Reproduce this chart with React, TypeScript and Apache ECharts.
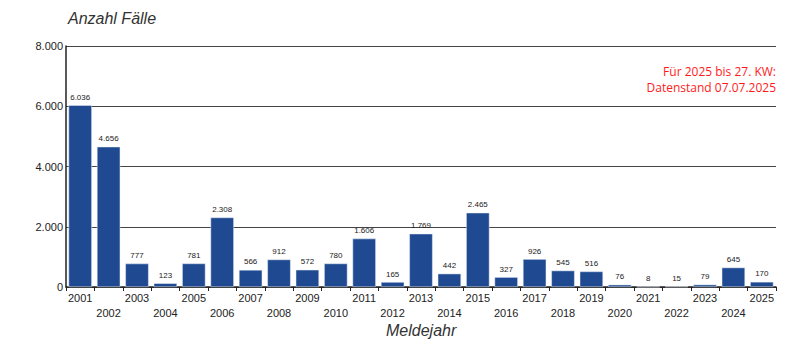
import React, { useEffect, useRef } from "react";
import * as echarts from "echarts";

const years = ["2001","2002","2003","2004","2005","2006","2007","2008","2009","2010","2011","2012","2013","2014","2015","2016","2017","2018","2019","2020","2021","2022","2023","2024","2025"];
const cases = [6036,4656,777,123,781,2308,566,912,572,780,1606,165,1769,442,2465,327,926,545,516,76,8,15,79,645,170];
const yTicks = [0, 2000, 4000, 6000, 8000];
const noteLines = ["Für 2025 bis 27. KW:", "Datenstand 07.07.2025"];

const fmt = (v: number) => String(v).replace(/\B(?=(\d{3})+(?!\d))/g, ".");

export default function App() {
  const ref = useRef<HTMLDivElement>(null);
  useEffect(() => {
    if (!ref.current) return;
    const chart = echarts.init(ref.current, null, { renderer: "svg" });
    chart.setOption({
      animation: false,
      textStyle: { fontFamily: "Liberation Sans, Arial, sans-serif" },
      grid: { left: 58, right: 24, top: 38, bottom: 68 },
      title: [
        { text: "Anzahl Fälle", left: 55, top: -3, textStyle: { fontSize: 16, fontStyle: "italic", fontWeight: "normal", color: "#333" } },
        { text: "Meldejahr", left: 373, top: 309, textStyle: { fontSize: 16, fontStyle: "italic", fontWeight: "normal", color: "#333" } },
      ],
      graphic: noteLines.map((t, i) => ({
        type: "text",
        right: 24,
        top: 57 + i * 16,
        style: { text: t, fill: "#ff1a1a", fontSize: 12, align: "right", fontFamily: "Open Sans, sans-serif" },
      })),
      xAxis: {
        type: "category",
        data: years,
        axisLine: { lineStyle: { color: "#222", width: 1.5 } },
        axisTick: { show: true, length: 4, lineStyle: { color: "#222" } },
        axisLabel: {
          interval: 0,
          fontSize: 11,
          color: "#222",
          margin: 3,
          lineHeight: 15,
          formatter: (v: string, i: number) => (i % 2 === 0 ? v : "\n" + v),
        },
      },
      yAxis: {
        type: "value",
        min: yTicks[0],
        max: yTicks[yTicks.length - 1],
        interval: 2000,
        axisLine: { show: true, lineStyle: { color: "#222", width: 1.5 } },
        axisTick: { show: false },
        splitLine: { lineStyle: { color: "#444", width: 1.2 } },
        axisLabel: { fontSize: 11, color: "#222", margin: 3, formatter: (v: number) => fmt(v) },
      },
      series: [
        {
          type: "bar",
          data: cases,
          barCategoryGap: "18%",
          itemStyle: { color: "#1f4a91", borderColor: "#e8eef8", borderWidth: 0.5 },
          label: { show: true, position: "top", distance: 4, fontSize: 8, color: "#222", formatter: (p: any) => fmt(p.value) },
        },
      ],
    });
    return () => chart.dispose();
  }, []);
  return <div ref={ref} style={{ width: 792, height: 347 }} />;
}
